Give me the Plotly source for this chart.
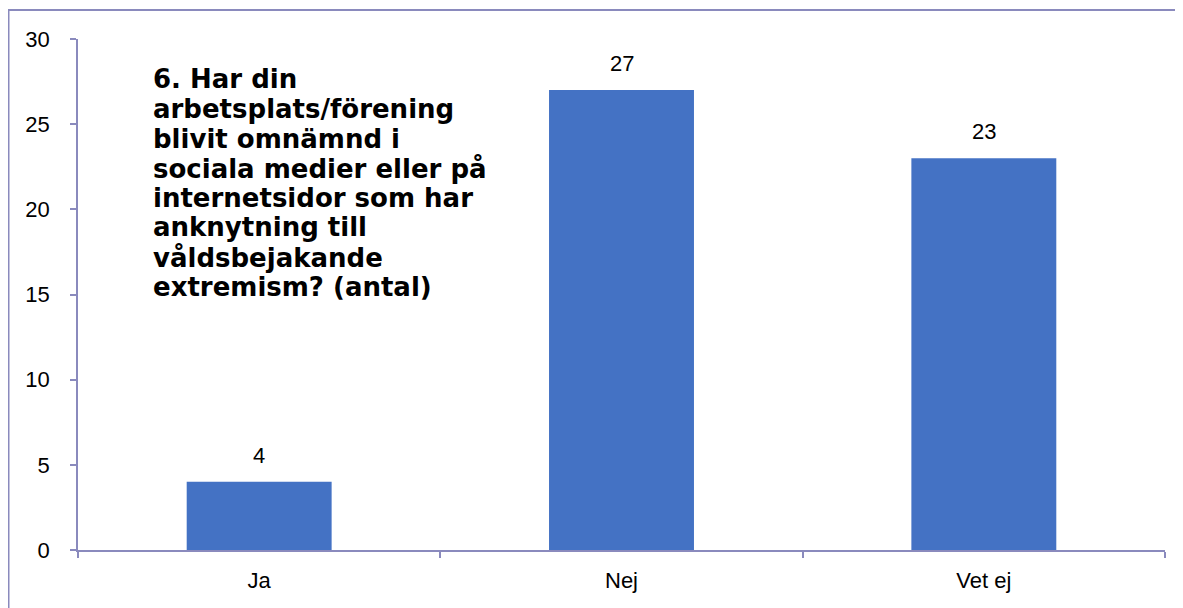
import plotly.graph_objects as go

categories = ["Ja", "Nej", "Vet ej"]
values = [4, 27, 23]
title_lines = [
    "6. Har din",
    "arbetsplats/förening",
    "blivit omnämnd i",
    "sociala medier eller på",
    "internetsidor som har",
    "anknytning till",
    "våldsbejakande",
    "extremism? (antal)",
]

# The page body has an 8px margin; the figure is offset so it lines up with the window.
OFF = 8
W, H = 1183 - OFF, 608 - OFF
L, R, T, B = 78 - OFF, 18, 39 - OFF, 58
PW, PH = W - L - R, H - T - B

def px_x(x):  # window pixel -> paper coordinate
    return (x - OFF - L) / PW

def px_y(y):
    return (H - B - (y - OFF)) / PH

AXIS = "#8A8ABD"
BAR = "#4472C4"
FONT = dict(family="Liberation Sans, Arial, sans-serif", size=22, color="black")

fig = go.Figure(go.Bar(x=categories, y=values, marker=dict(color=BAR, line=dict(width=0)),
                       hoverinfo="skip"))

annotations = []
for c, v in zip(categories, values):
    annotations.append(dict(x=c, y=v, xref="x", yref="y", text=str(v), showarrow=False,
                            yanchor="bottom", yshift=12, font=FONT))

for i, line in enumerate(title_lines):
    annotations.append(dict(x=px_x(151), y=px_y(79.5 + 29.6 * i), xref="paper", yref="paper",
                            text=line, showarrow=False, xanchor="left", yanchor="middle",
                            font=dict(family="DejaVu Sans", size=26, color="black", weight="bold")))

fig.update_layout(
    width=W, height=H,
    margin=dict(l=L, r=R, t=T, b=B),
    paper_bgcolor="white", plot_bgcolor="white",
    bargap=0.6,
    showlegend=False,
    annotations=annotations,
    font=FONT,
    shapes=[
        dict(type="line", xref="paper", yref="paper", x0=px_x(8.5), x1=px_x(8.5),
             y0=px_y(9), y1=px_y(610), line=dict(color=AXIS, width=2)),
        dict(type="line", xref="paper", yref="paper", x0=px_x(7.5), x1=px_x(1185),
             y0=px_y(10), y1=px_y(10), line=dict(color=AXIS, width=2)),
    ],
)
fig.update_xaxes(showline=True, linecolor=AXIS, linewidth=1.5, ticks="outside",
                 tickson="boundaries", ticklen=6, tickcolor=AXIS, tickwidth=1.5,
                 showgrid=False, tickfont=FONT, ticklabelstandoff=10)
fig.update_yaxes(range=[0, 30], dtick=5, showline=True, linecolor=AXIS, linewidth=1.5,
                 ticks="outside", ticklen=6, tickcolor=AXIS, tickwidth=1.5,
                 showgrid=False, zeroline=False, tickfont=FONT, ticklabelstandoff=16)

fig.write_html("out.html", config={"displayModeBar": False})
